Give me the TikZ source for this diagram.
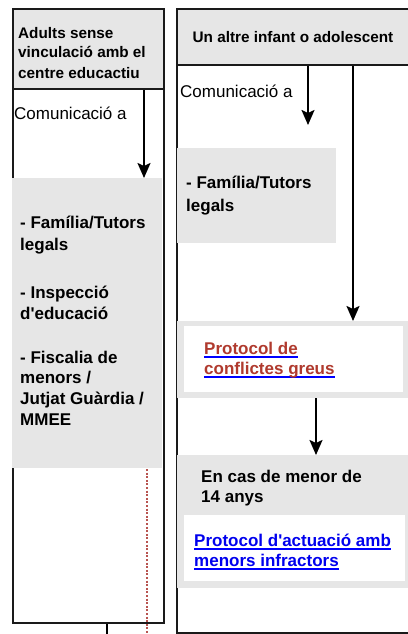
\documentclass[tikz,border=0pt]{standalone}
\usepackage{fontspec}
\setmainfont{Liberation Sans}
\usetikzlibrary{arrows.meta}
\definecolor{boxgray}{HTML}{E6E6E6}
\definecolor{linkred}{HTML}{B03A2E}
\definecolor{linkblue}{HTML}{0000EE}
\definecolor{ulblue}{HTML}{0000FF}
\definecolor{dotred}{HTML}{B85450}
\definecolor{edge}{HTML}{1A1A1A}
\newcommand\blueul[1]{\setbox0\hbox{#1}\rlap{\color{ulblue}\rule[-3.6pt]{\wd0}{1.8pt}}\box0}
\tikzset{
  colbox/.style={draw=edge, line width=2pt, fill=white, anchor=north west, inner sep=0pt},
  hdrbox/.style={draw=edge, line width=2pt, fill=boxgray, anchor=north west, inner sep=0pt},
  graybox/.style={fill=boxgray, anchor=north west, inner sep=0pt},
  whitebox/.style={fill=white, anchor=north west, inner sep=0pt},
  hdrtxt/.style={anchor=base west, inner sep=0pt, font=\fontsize{15.3}{20}\selectfont\bfseries},
  boldtxt/.style={anchor=base west, inner sep=0pt, font=\fontsize{17}{22}\selectfont\bfseries},
  plaintxt/.style={anchor=base west, inner sep=0pt, font=\fontsize{17}{22}\selectfont},
  arr/.style={draw=black, line width=2pt, -{Stealth[width=13pt,length=15pt,inset=3pt]}},
}
\begin{document}
\begin{tikzpicture}[x=1pt,y=-1pt]
\useasboundingbox (0,0) rectangle (407,634);
% columns
\node[colbox, minimum width=151pt, minimum height=614pt] (lcol) at (12,8) {};
\node[colbox, minimum width=234pt, minimum height=624pt] (rcol) at (176,8) {};
% headers
\node[hdrbox, minimum width=151pt, minimum height=80pt] (lhead) at (12,8) {};
\node[hdrbox, minimum width=234pt, minimum height=56pt] (rhead) at (176,8) {};
\node[hdrtxt] (lh1) at (18,38) {Adults sense};
\node[hdrtxt] (lh2) at (18,58) {vinculació amb el};
\node[hdrtxt] (lh3) at (18,78) {centre educactiu};
\node[hdrtxt, anchor=base] (rh1) at (293,42) {Un altre infant o adolescent};
% left column content
\node[plaintxt] (lcom) at (14,119) {Comunicació a};
\node[graybox, minimum width=150pt, minimum height=290pt] (lbox) at (12,178) {};
\node[boldtxt] (lb1) at (20,228) {- Família/Tutors};
\node[boldtxt] (lb2) at (20,250) {legals};
\node[boldtxt] (lb3) at (20,298) {- Inspecció};
\node[boldtxt] (lb4) at (20,319) {d\textquotesingle educació};
\node[boldtxt] (lb5) at (20,363) {- Fiscalia de};
\node[boldtxt] (lb6) at (20,383) {menors /};
\node[boldtxt] (lb7) at (20,404) {Jutjat Guàrdia /};
\node[boldtxt] (lb8) at (20,425) {MMEE};
% right column content
\node[plaintxt] (rcom) at (180,97) {Comunicació a};
\node[graybox, minimum width=159pt, minimum height=95pt] (rbox) at (177,148) {};
\node[boldtxt] (rb1) at (186,188) {- Família/Tutors};
\node[boldtxt] (rb2) at (186,211) {legals};
% protocol conflictes greus
\node[graybox, minimum width=232pt, minimum height=77pt] (pbox) at (177,321) {};
\node[whitebox, minimum width=219pt, minimum height=66pt] (pin) at (184,326) {};
\node[boldtxt, text=linkred] (p1) at (204,354) {\blueul{Protocol de}};
\node[boldtxt, text=linkred] (p2) at (204,374) {\blueul{conflictes greus}};
% en cas de menor
\node[graybox, minimum width=232pt, minimum height=133pt] (ebox) at (177,455) {};
\node[whitebox, minimum width=221pt, minimum height=66pt] (ein) at (184,515) {};
\node[boldtxt] (e1) at (201,482) {En cas de menor de};
\node[boldtxt] (e2) at (201,502) {14 anys};
\node[boldtxt, text=linkblue] (e3) at (194,546) {\blueul{Protocol d\textquotesingle actuació amb}};
\node[boldtxt, text=linkblue] (e4) at (194,566) {\blueul{menors infractors}};
% coordinates
\coordinate (la) at (144,0);
\coordinate (ra) at (308,0);
\coordinate (rend) at (308,125);
\coordinate (rb) at (353,0);
\coordinate (pc) at (316,0);
\coordinate (dtop) at (147,469);
\coordinate (dbot) at (147,640);
\coordinate (stub) at (107,640);
% arrows
\draw[arr] (lhead.south -| la) -- (lbox.north -| la);
\draw[arr] (rhead.south -| ra) -- (rend);
\draw[arr] (rhead.south -| rb) -- (pbox.north -| rb);
\draw[arr] (pbox.south -| pc) -- (ebox.north -| pc);
% dotted red line and stub
\draw[dotred, line width=2.2pt, dash pattern=on 2pt off 1.6pt] (dtop) -- (dbot);
\draw[black, line width=2pt] (lcol.south -| stub) -- (stub);
\end{tikzpicture}
\end{document}
